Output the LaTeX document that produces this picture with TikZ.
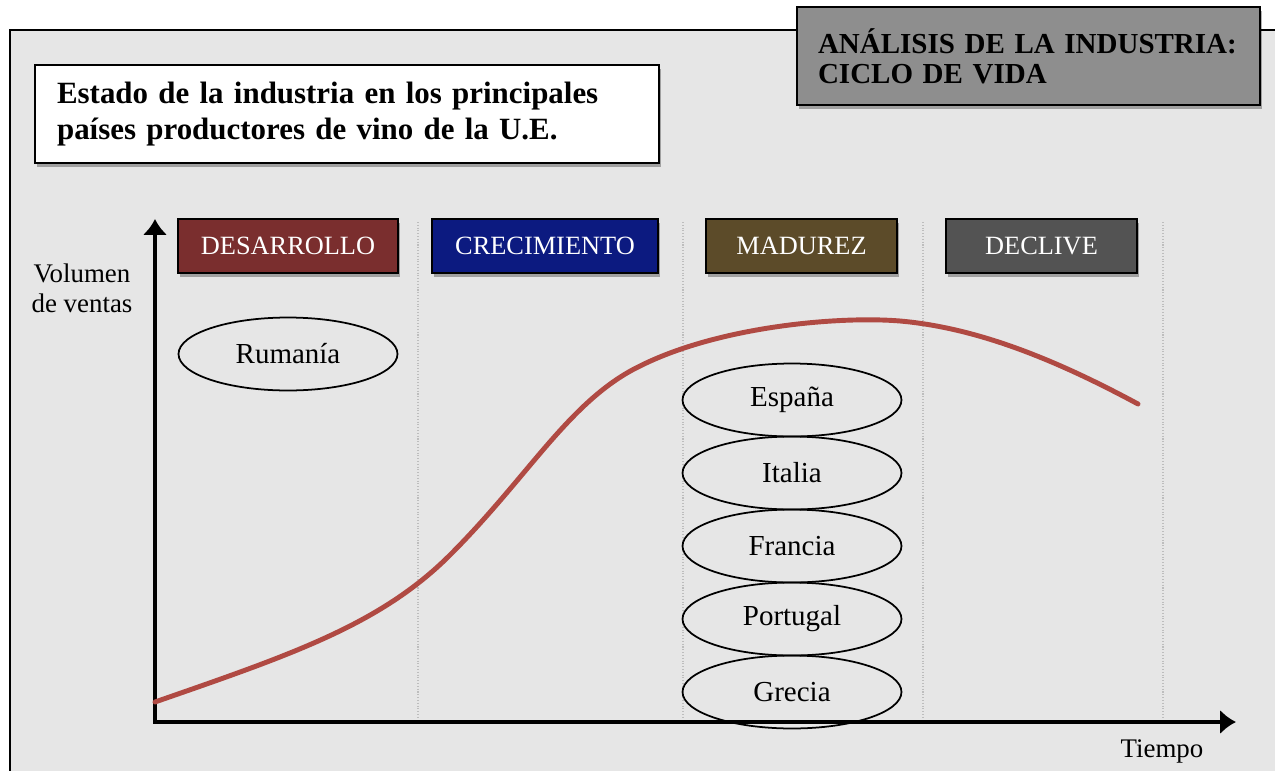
\documentclass[tikz,border=0pt]{standalone}
\usepackage{fontspec}
\setmainfont{Liberation Serif}
\usepackage{tikz}
\usetikzlibrary{arrows.meta, shapes.geometric, shadows}

\definecolor{panel}{HTML}{E6E6E6}
\definecolor{titlegray}{HTML}{8E8E8E}
\definecolor{desarrollo}{HTML}{7A2E2E}
\definecolor{crecimiento}{HTML}{0C1A80}
\definecolor{madurez}{HTML}{5C4B29}
\definecolor{declive}{HTML}{535353}
\definecolor{ventas}{HTML}{B04A43}
\definecolor{sepgray}{HTML}{BDBDBD}

\tikzset{
  boxshadow/.style={drop shadow={shadow xshift=1pt, shadow yshift=-2pt, opacity=0.3, fill=black}},
  titlebox/.style={draw, line width=1.1pt, boxshadow, inner sep=0pt, align=left},
  stagebox/.style={draw, line width=1.1pt, boxshadow, text=white, minimum height=1.08cm, inner sep=0pt, font=\fontsize{15}{17}\selectfont},
  country/.style={draw, ellipse, line width=1pt, minimum width=4.38cm, minimum height=1.46cm, inner sep=0pt, font=\fontsize{16.5}{18}\selectfont},
  axislabel/.style={font=\fontsize{15.3}{17}\selectfont, align=center},
  axis/.style={line width=2.6pt, >={Latex[length=9pt,width=14pt]}},
  sep/.style={sepgray, densely dotted, line width=0.6pt},
  curve/.style={ventas, line width=2.8pt, line cap=round}
}

\begin{document}
\begin{tikzpicture}[x=0.02cm, y=-0.02cm]
            \useasboundingbox (0,0) rectangle (1275,771);
            \fill[panel] (10,30) rectangle (1275,771);
            \draw[line width=1.2pt] (10,771) -- (10,30) -- (1275,30);

            % titles
            \node[titlebox, fill=white, minimum width=12.48cm, minimum height=1.96cm, text width=11.6cm,
              font=\fontsize{17.6}{20.4}\selectfont\bfseries] (estado) at (347,114)
              {Estado de la industria en los principales\\pa\'ises productores de vino de la U.E.};
            \node[titlebox, fill=titlegray, minimum width=9.26cm, minimum height=1.96cm, text width=8.42cm,
              font=\fontsize{16.5}{17}\selectfont\bfseries] (analisis) at (1028.5,56)
              {ANÁLISIS DE LA INDUSTRIA:\\CICLO DE VIDA};

            % stages
            \foreach \name/\cx/\w/\col/\txt in {des/288/4.4/desarrollo/DESARROLLO, cre/545/4.52/crecimiento/CRECIMIENTO,
                                                mad/801.5/3.82/madurez/MADUREZ, dec/1041.5/3.82/declive/DECLIVE} {
              \node[stagebox, fill=\col, minimum width=\w cm] (\name) at (\cx,246) {\txt};
            }
            \foreach \x in {418, 683, 923, 1163} {
              \draw[sep] (\x,222) -- (\x,718);
            }

            % axes
            \coordinate (origin) at (155,722);
            \coordinate (ytip) at (155,219);
            \coordinate (xtip) at (1236,722);
            \draw[axis, <->] (ytip) -- (origin) -- (xtip);
            \node[axislabel] (volumen) at (82,288) {Volumen\\de ventas};
            \node[axislabel, anchor=base] (tiempo) at (1162,757) {Tiempo};

            % sales curve
            \draw[curve] (155,702) .. controls (290,655) and (380,625) .. (450,555)
              .. controls (530,475) and (570,400) .. (640,366)
              .. controls (720,326) and (840,316) .. (900,321)
              .. controls (980,328) and (1060,362) .. (1138,404);

            % countries
            \node[country] (rum) at (288,354) {Rumanía};
            \foreach \name/\y/\txt in {esp/400/España, ita/473/Italia, fra/546/Francia, por/619/Portugal, gre/692/Grecia} {
              \node[country] (\name) at (792,\y) {\txt};
            }
\end{tikzpicture}
\end{document}
